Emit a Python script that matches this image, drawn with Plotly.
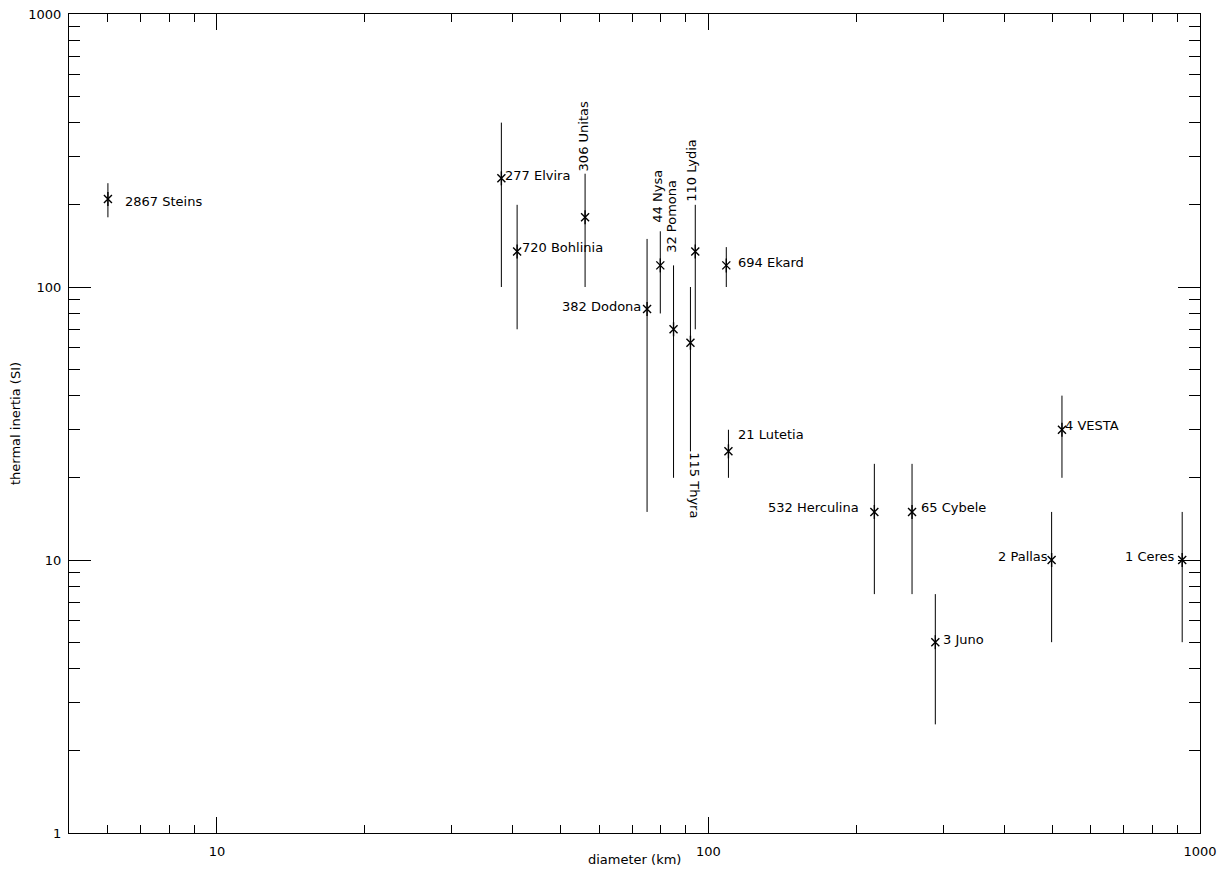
import math
import plotly.graph_objects as go

# ---- data ----
names = ["2867 Steins", "277 Elvira", "720 Bohlinia", "306 Unitas", "44 Nysa",
         "382 Dodona", "32 Pomona", "110 Lydia", "115 Thyra", "694 Ekard",
         "21 Lutetia", "532 Herculina", "65 Cybele", "3 Juno", "4 VESTA",
         "2 Pallas", "1 Ceres"]
diameter = [6.0, 37.9, 40.8, 56.1, 79.8, 75.0, 84.9, 94.0, 91.9, 108.7,
            109.8, 217.5, 259.5, 289.4, 523.8, 499.0, 920.0]
inertia = [210, 250, 135, 180, 120, 83, 70, 135, 62.5, 120,
           25, 15, 15, 5, 30, 10, 10]
inertia_lo = [180, 100, 70, 100, 80, 15, 20, 70, 25, 100,
              20, 7.5, 7.5, 2.5, 20, 5, 5]
inertia_hi = [240, 400, 200, 260, 160, 150, 120, 200, 100, 140,
              30, 22.5, 22.5, 7.5, 40, 15, 15]

x_major = [10, 100, 1000]
y_major = [1, 10, 100, 1000]
x_title = "diameter (km)"
y_title = "thermal inertia (SI)"

# ---- label placement (style) ----
# name: (xanchor, xshift, yshift, textangle)
label_style = {
    "2867 Steins": ("left", 15, -2, 0),
    "277 Elvira": ("left", 2, 3, 0),
    "720 Bohlinia": ("left", 3, 4, 0),
    "306 Unitas": ("center", -2, 81, -90),
    "44 Nysa": ("center", -3, 69, -90),
    "382 Dodona": ("right", -4, 3, 0),
    "32 Pomona": ("center", -2, 113, -90),
    "110 Lydia": ("center", -4, 81, -90),
    "115 Thyra": ("center", 4, -143, 90),
    "694 Ekard": ("left", 10, 3, 0),
    "21 Lutetia": ("left", 8, 17, 0),
    "532 Herculina": ("right", -13, 4, 0),
    "65 Cybele": ("left", 7, 4, 0),
    "3 Juno": ("left", 6, 3, 0),
    "4 VESTA": ("left", 1, 4, 0),
    "2 Pallas": ("right", -2, 4, 0),
    "1 Ceres": ("right", -5, 4, 0),
}

FONT = "DejaVu Sans"
err_plus = [h - v for h, v in zip(inertia_hi, inertia)]
err_minus = [v - l for v, l in zip(inertia, inertia_lo)]

fig = go.Figure()
fig.add_trace(go.Scatter(
    x=diameter, y=inertia, mode="markers",
    marker=dict(symbol="x-thin-open", size=8, line=dict(color="black", width=1.4), color="black"),
    error_y=dict(type="data", symmetric=False, array=err_plus, arrayminus=err_minus,
                 color="black", thickness=1, width=0),
    showlegend=False, hoverinfo="skip"))
fig.add_trace(go.Scatter(
    x=diameter, y=inertia, mode="markers",
    marker=dict(symbol="line-ns-open", size=10, line=dict(color="black", width=1.4), color="black"),
    showlegend=False, hoverinfo="skip"))

for n, d, v in zip(names, diameter, inertia):
    xa, xs, ys, ang = label_style[n]
    fig.add_annotation(
        x=math.log10(d), y=math.log10(v), xref="x", yref="y",
        text=n, showarrow=False, xanchor=xa, yanchor="middle",
        xshift=xs, yshift=ys, textangle=ang,
        font=dict(family=FONT, size=13, color="black"))

# x axis title as an annotation so it can sit a little lower
fig.add_annotation(
    x=0.5, y=0, xref="paper", yref="paper", text=x_title, showarrow=False,
    xanchor="center", yanchor="middle", yshift=-26, borderpad=0,
    font=dict(family=FONT, size=13, color="black"))

def minor_vals(lo_exp, hi_exp):
    vals = []
    for e in range(lo_exp, hi_exp):
        for m in range(2, 10):
            vals.append(m * 10 ** e)
    return vals

axis_common = dict(
    type="log", showgrid=False, zeroline=False, automargin=False,
    showline=True, linecolor="black", linewidth=1, mirror="ticks",
    ticks="inside", tickcolor="black", tickwidth=1, ticklabeloverflow="allow",
    tickmode="array", tickfont=dict(family=FONT, size=13, color="black"),
)

fig.update_xaxes(
    **axis_common,
    range=[math.log10(5), 3],
    tickvals=x_major, ticktext=[str(v) for v in x_major],
    ticklen=16,
    minor=dict(tickmode="array", tickvals=[v for v in minor_vals(0, 3) if v > 5], ticks="inside",
               ticklen=8, tickcolor="black", tickwidth=1, showgrid=False),
    ticklabelstandoff=6,
)
fig.update_yaxes(
    **axis_common,
    range=[0, 3],
    tickvals=y_major, ticktext=[str(v) for v in y_major],
    ticklen=22,
    minor=dict(tickmode="array", tickvals=minor_vals(0, 3), ticks="inside",
               ticklen=11, tickcolor="black", tickwidth=1, showgrid=False),
    title=dict(text=y_title, font=dict(family=FONT, size=13, color="black"), standoff=17),
    ticklabelstandoff=4,
)

# the page body adds an 8px margin around the figure; compensate here
fig.update_layout(
    width=1209, height=859,
    margin=dict(l=61, r=17, t=6, b=34, pad=0),
    paper_bgcolor="white", plot_bgcolor="white",
    font=dict(family=FONT, size=13, color="black"),
)

fig.write_html("out.html")
